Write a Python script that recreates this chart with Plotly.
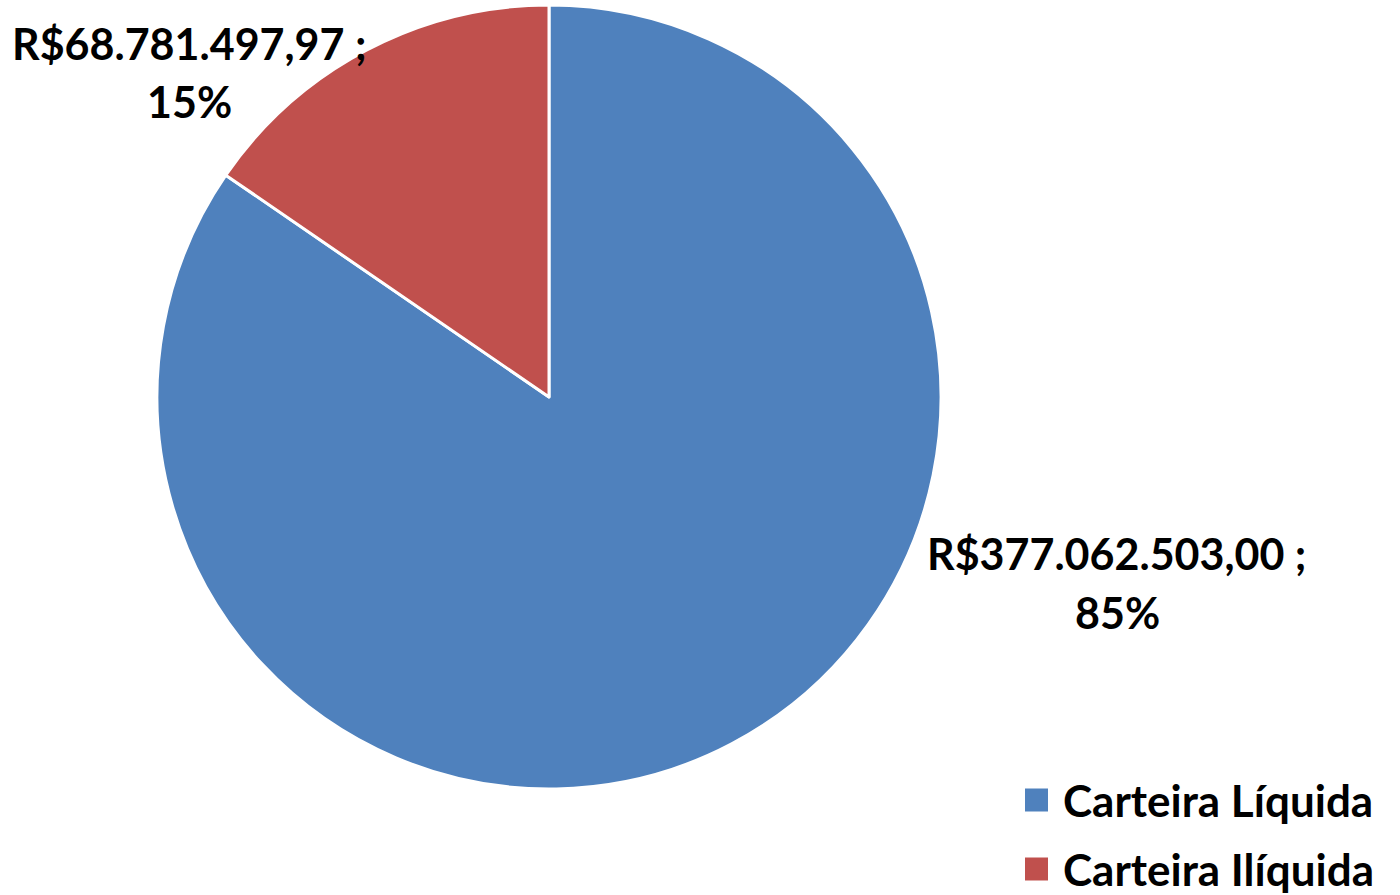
import plotly.graph_objects as go

labels = ["Carteira Líquida", "Carteira Ilíquida"]
values = [377062503.00, 68781497.97]
colors = ["#4F81BD", "#C0504D"]

W, H = 1400, 895


def brl(v):
    s = f"{v:,.2f}"
    s = s.replace(",", "X").replace(".", ",").replace("X", ".")
    return "R$" + s


total = sum(values)
pcts = [round(v / total * 100) for v in values]

fig = go.Figure(
    go.Pie(
        labels=labels,
        values=values,
        sort=False,
        direction="clockwise",
        rotation=0,
        marker=dict(colors=colors, line=dict(color="white", width=3)),
        textinfo="none",
        hoverinfo="label+value+percent",
        showlegend=False,
        domain=dict(x=[157 / W, 941 / W], y=[106 / H, 890 / H]),
    )
)

font = dict(family="Lato", size=43, color="black", weight="bold")
legfont = dict(family="Lato", size=44, color="black", weight="bold")


def px(x):
    return x / W


def py(y):
    return 1 - y / H


# data labels (line 1: value, line 2: percent)
label_pos = [(1117, 553, 612), (190, 43, 101)]
ann = []
for i, (cx, y1, y2) in enumerate(label_pos):
    ann.append(dict(x=px(cx), y=py(y1), xref="paper", yref="paper", text=brl(values[i]) + " ;",
                    showarrow=False, xanchor="center", yanchor="middle", font=font))
    ann.append(dict(x=px(cx), y=py(y2), xref="paper", yref="paper", text=f"{pcts[i]}%",
                    showarrow=False, xanchor="center", yanchor="middle", font=font))

# legend
shapes = []
leg_rows = [800, 869]
for i, ly in enumerate(leg_rows):
    shapes.append(dict(type="rect", xref="paper", yref="paper",
                       x0=px(1025), x1=px(1048), y0=py(ly - 11.5), y1=py(ly + 11.5),
                       fillcolor=colors[i], line=dict(width=0)))
    ann.append(dict(x=px(1061), y=py(ly), xref="paper", yref="paper", text=labels[i],
                    showarrow=False, xanchor="left", yanchor="middle", font=legfont))

fig.update_layout(
    width=W, height=H,
    margin=dict(l=0, r=0, t=0, b=0),
    paper_bgcolor="white",
    plot_bgcolor="white",
    annotations=ann,
    shapes=shapes,
)

fig.write_html("out.html", config={"displayModeBar": False},
               post_script="document.body.style.margin='0';document.body.style.overflow='hidden';")
